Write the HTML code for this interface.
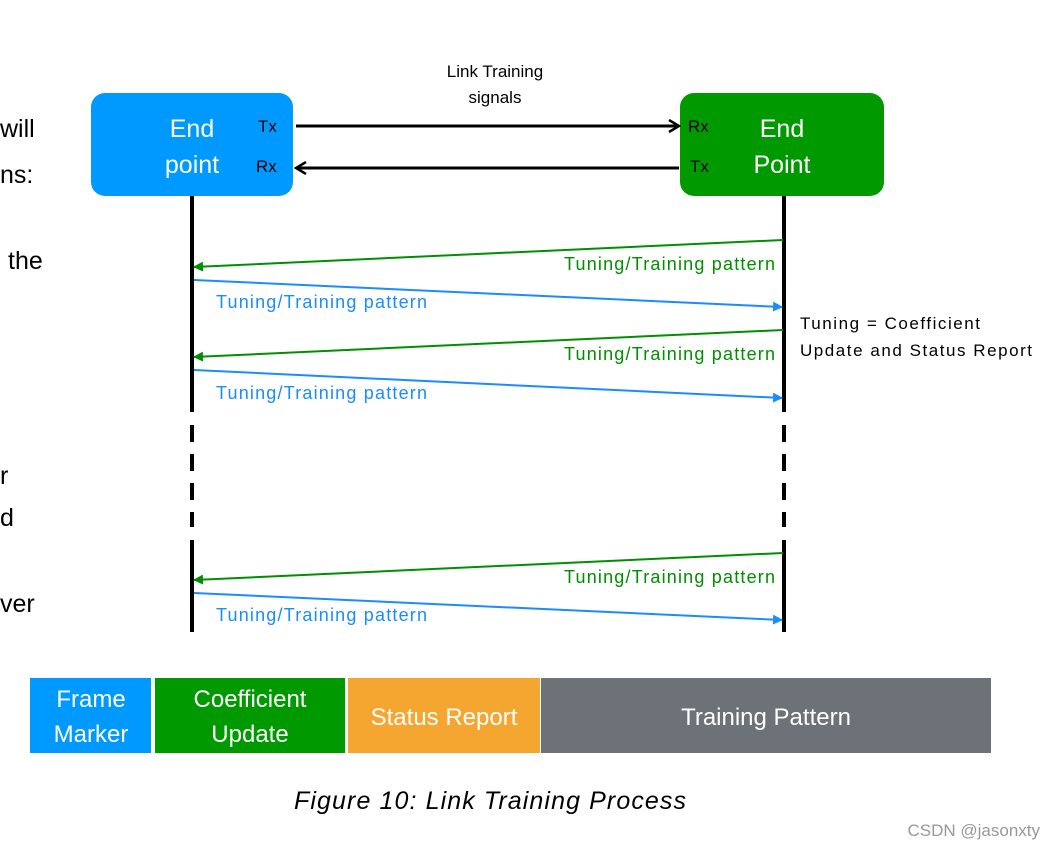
<!DOCTYPE html>
<html><head><meta charset="utf-8"><style>
body{margin:0;background:#fff;width:1055px;height:849px;overflow:hidden}
svg{display:block;font-family:"Liberation Sans",sans-serif}
</style></head><body>
<svg width="1055" height="849" viewBox="0 0 1055 849">
<defs>
<marker id="ag" markerWidth="10" markerHeight="10" refX="9" refY="5" orient="auto" markerUnits="userSpaceOnUse"><path d="M0,0 L10,5 L0,10 z" fill="#008f00"/></marker>
<marker id="ab" markerWidth="10" markerHeight="10" refX="9" refY="5" orient="auto" markerUnits="userSpaceOnUse"><path d="M0,0 L10,5 L0,10 z" fill="#1a8cff"/></marker>
<marker id="ak" markerWidth="14" markerHeight="14" refX="12" refY="7" orient="auto" markerUnits="userSpaceOnUse"><path d="M2,1 L12,7 L2,13" fill="none" stroke="#000" stroke-width="2.5"/></marker>
</defs>
<g font-size="25" fill="#000">
<text x="0" y="137">will</text>
<text x="0" y="183">ns:</text>
<text x="8" y="269">the</text>
<text x="0" y="484">r</text>
<text x="0" y="526">d</text>
<text x="0" y="612">ver</text>
</g>
<text x="495" y="77" font-size="17" text-anchor="middle">Link Training</text>
<text x="495" y="103" font-size="17" text-anchor="middle">signals</text>
<rect x="91" y="93" width="202" height="103" rx="14" fill="#0099ff"/>
<rect x="680" y="93" width="204" height="103" rx="14" fill="#009900"/>
<g fill="#fff" font-size="25" text-anchor="middle">
<text x="192" y="137">End</text><text x="192" y="173">point</text>
<text x="782" y="137">End</text><text x="782" y="173">Point</text>
</g>
<g font-size="17">
<text x="258" y="132">Tx</text><text x="256" y="172">Rx</text>
<text x="688" y="132">Rx</text><text x="690" y="172">Tx</text>
</g>
<line x1="296" y1="126" x2="679" y2="126" stroke="#000" stroke-width="3" marker-end="url(#ak)"/>
<line x1="679" y1="168" x2="296" y2="168" stroke="#000" stroke-width="3" marker-end="url(#ak)"/>
<g stroke="#000" stroke-width="4">
<line x1="192" y1="196" x2="192" y2="412"/>
<line x1="784" y1="196" x2="784" y2="412"/>
<line x1="192" y1="425" x2="192" y2="527" stroke-dasharray="17,12"/>
<line x1="784" y1="425" x2="784" y2="527" stroke-dasharray="17,12"/>
<line x1="192" y1="540" x2="192" y2="632"/>
<line x1="784" y1="540" x2="784" y2="632"/>
</g>
<g stroke-width="2">
<line x1="783" y1="240" x2="194" y2="267" stroke="#008f00" marker-end="url(#ag)"/>
<line x1="194" y1="280" x2="782" y2="307" stroke="#1a8cff" marker-end="url(#ab)"/>
<line x1="783" y1="330" x2="194" y2="357" stroke="#008f00" marker-end="url(#ag)"/>
<line x1="194" y1="370" x2="782" y2="398" stroke="#1a8cff" marker-end="url(#ab)"/>
<line x1="783" y1="553" x2="194" y2="580" stroke="#008f00" marker-end="url(#ag)"/>
<line x1="194" y1="593" x2="782" y2="620" stroke="#1a8cff" marker-end="url(#ab)"/>
</g>
<g font-size="18" fill="#008f00" text-anchor="end">
<text x="775" y="270" textLength="211">Tuning/Training pattern</text>
<text x="775" y="360" textLength="211">Tuning/Training pattern</text>
<text x="775" y="583" textLength="211">Tuning/Training pattern</text>
</g>
<g font-size="18" fill="#1a8cff">
<text x="216" y="308" textLength="211">Tuning/Training pattern</text>
<text x="216" y="399" textLength="211">Tuning/Training pattern</text>
<text x="216" y="621" textLength="211">Tuning/Training pattern</text>
</g>
<text x="800" y="329" font-size="17" textLength="180">Tuning = Coefficient</text>
<text x="800" y="356" font-size="17" textLength="232">Update and Status Report</text>
<rect x="30" y="678" width="121" height="75" fill="#0099ff"/>
<rect x="155" y="678" width="190" height="75" fill="#009900"/>
<rect x="348" y="678" width="192" height="75" fill="#f5a631"/>
<rect x="541" y="678" width="450" height="75" fill="#6d7278"/>
<g fill="#fff" font-size="24" text-anchor="middle">
<text x="91" y="707">Frame</text><text x="91" y="742">Marker</text>
<text x="250" y="707">Coefficient</text><text x="250" y="742">Update</text>
<text x="444" y="725">Status Report</text>
<text x="766" y="725">Training Pattern</text>
</g>
<text x="490" y="809" font-size="25" font-style="italic" text-anchor="middle" textLength="392">Figure 10: Link Training Process</text>
<text x="1040" y="836" font-size="17" fill="#999" text-anchor="end">CSDN @jasonxty</text>
</svg>
</body></html>
